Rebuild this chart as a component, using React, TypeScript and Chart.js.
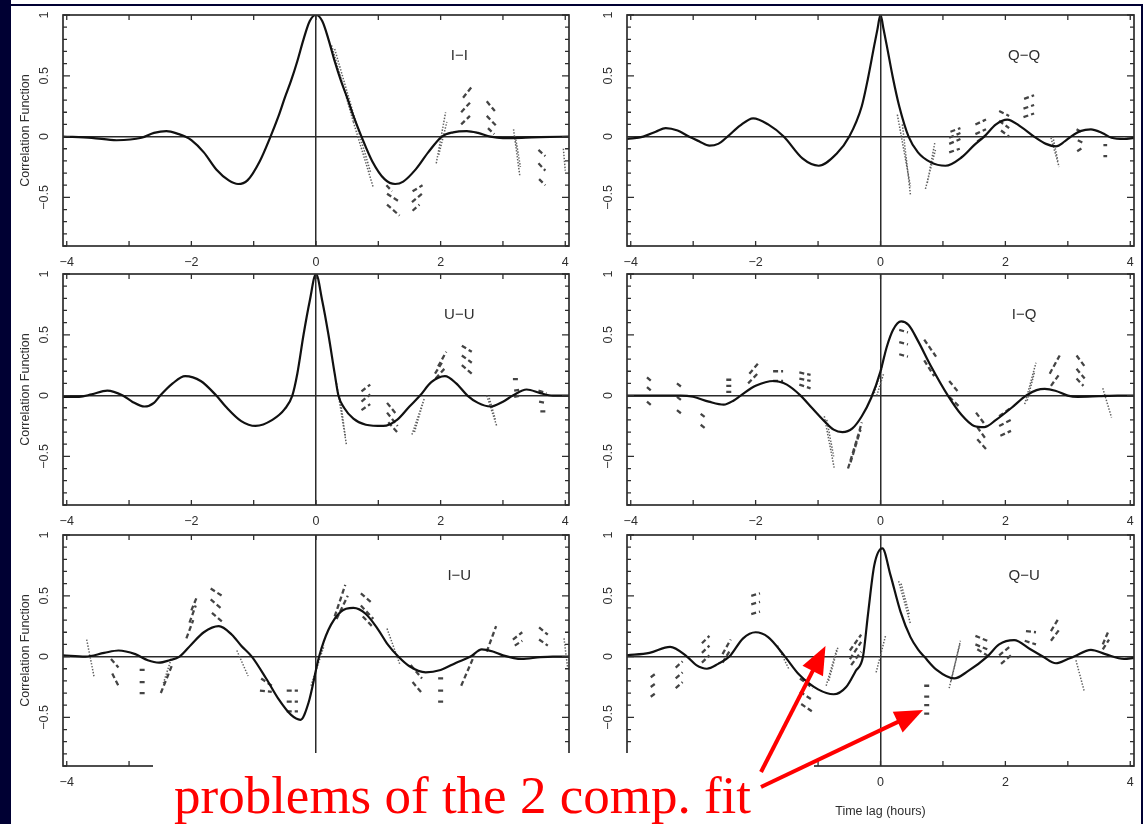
import React, { useEffect, useRef } from "react";
import { Chart, registerables } from "chart.js";
Chart.register(...registerables);

// ---------- axes ----------
const xLabelTicks = [-4, -2, 0, 2, 4];
const xMinorTicks = [-4, -3, -2, -1, 0, 1, 2, 3, 4];
const yLabelTicks = [-0.5, 0, 0.5, 1];
const yMinorTicks = [-0.9, -0.8, -0.7, -0.6, -0.5, -0.4, -0.3, -0.2, -0.1, 0, 0.1, 0.2, 0.3, 0.4, 0.5, 0.6, 0.7, 0.8, 0.9, 1.0];
const yMajorTicks = [-0.5, 0, 0.5, 1];

// ---------- I-I ----------
const iiLag = [-4.06, -3.6, -3.2, -2.8, -2.6, -2.4, -2.2, -2.1, -2.0, -1.8, -1.6, -1.4, -1.25, -1.1, -0.9, -0.73, -0.6, -0.5, -0.4, -0.3, -0.2, -0.1, 0, 0.1, 0.2, 0.3, 0.4, 0.5, 0.6, 0.73, 0.9, 1.1, 1.27, 1.4, 1.6, 1.8, 2.02, 2.2, 2.42, 2.6, 2.8, 3.0, 3.3, 3.6, 4.06];
const iiFit = [0, -0.01, -0.03, -0.01, 0.03, 0.045, 0.02, 0, -0.03, -0.13, -0.27, -0.36, -0.39, -0.36, -0.2, 0, 0.17, 0.32, 0.46, 0.62, 0.8, 0.95, 1.0, 0.95, 0.8, 0.62, 0.46, 0.32, 0.17, 0, -0.2, -0.35, -0.39, -0.37, -0.27, -0.13, 0, 0.035, 0.045, 0.03, 0.0, -0.012, -0.01, -0.005, 0];
const iiDash = [
  [1.13, -0.40, 1.22, -0.45], [1.14, -0.47, 1.32, -0.53], [1.14, -0.56, 1.34, -0.65],
  [1.55, -0.45, 1.71, -0.40], [1.54, -0.54, 1.70, -0.47], [1.55, -0.61, 1.66, -0.56],
  [2.36, 0.32, 2.50, 0.41], [2.33, 0.20, 2.49, 0.29], [2.33, 0.10, 2.47, 0.17],
  [2.74, 0.29, 2.87, 0.21], [2.74, 0.17, 2.89, 0.09], [2.76, 0.07, 2.86, 0.02],
  [3.57, -0.11, 3.68, -0.16], [3.57, -0.22, 3.68, -0.28], [3.58, -0.35, 3.68, -0.40],
];
const iiDot = [
  [0.25, 0.75, 0.6, 0.12], [0.6, 0.12, 0.92, -0.42], [0.3, 0.72, 0.65, 0.1], [0.65, 0.1, 0.88, -0.3],
  [1.93, -0.22, 2.08, 0.2], [1.97, -0.15, 2.1, 0.12],
  [3.17, 0.06, 3.27, -0.32], [3.2, 0.0, 3.28, -0.25], [3.97, -0.1, 4.0, -0.28],
];

// ---------- Q-Q ----------
const qqLag = [-4.06, -3.8, -3.6, -3.44, -3.25, -3.07, -2.9, -2.74, -2.6, -2.45, -2.25, -2.04, -1.8, -1.55, -1.25, -0.99, -0.7, -0.5, -0.3, -0.2, -0.1, -0.05, 0, 0.05, 0.1, 0.2, 0.3, 0.45, 0.6, 0.8, 1.04, 1.3, 1.5, 1.66, 1.85, 2.03, 2.25, 2.46, 2.65, 2.81, 2.95, 3.05, 3.2, 3.37, 3.55, 3.7, 3.9, 4.06];
const qqFit = [-0.02, 0, 0.04, 0.07, 0.05, 0, -0.04, -0.075, -0.06, 0, 0.09, 0.15, 0.1, 0, -0.18, -0.24, -0.14, 0, 0.25, 0.48, 0.75, 0.88, 1.0, 0.88, 0.75, 0.48, 0.25, 0, -0.13, -0.21, -0.24, -0.17, -0.07, 0, 0.1, 0.14, 0.08, 0, -0.06, -0.08, -0.04, 0, 0.045, 0.06, 0.03, -0.01, -0.02, -0.01];
const qqDash = [
  [1.10, -0.13, 1.27, -0.10], [1.10, -0.06, 1.28, -0.02], [1.10, -0.01, 1.28, 0.03], [1.12, 0.04, 1.28, 0.07],
  [1.52, 0.10, 1.69, 0.14], [1.52, 0.02, 1.69, 0.06], [1.55, -0.04, 1.69, 0.01],
  [1.90, 0.21, 2.06, 0.17], [1.90, 0.13, 2.06, 0.07], [1.93, 0.05, 2.06, 0.0],
  [2.30, 0.31, 2.46, 0.34], [2.29, 0.23, 2.46, 0.26], [2.29, 0.16, 2.46, 0.19],
  [3.14, 0.06, 3.24, 0.03], [3.16, -0.03, 3.24, -0.05], [3.15, -0.12, 3.24, -0.09],
  [3.57, -0.07, 3.63, -0.07], [3.57, -0.16, 3.63, -0.16],
];
const qqDot = [
  [0.27, 0.18, 0.48, -0.41], [0.35, 0.1, 0.48, -0.48],
  [0.72, -0.43, 0.88, -0.11], [0.75, -0.38, 0.87, -0.05],
  [2.73, -0.01, 2.86, -0.25], [2.76, 0.0, 2.84, -0.2],
];

// ---------- U-U ----------
const uuLag = [-4.06, -3.8, -3.6, -3.35, -3.1, -2.95, -2.75, -2.6, -2.5, -2.3, -2.1, -1.85, -1.6, -1.45, -1.2, -0.97, -0.7, -0.5, -0.38, -0.3, -0.2, -0.1, 0, 0.1, 0.2, 0.3, 0.36, 0.45, 0.6, 0.8, 1.08, 1.3, 1.5, 1.67, 1.85, 2.07, 2.25, 2.43, 2.6, 2.8, 3.0, 3.16, 3.38, 3.6, 3.8, 4.06];
const uuFit = [-0.01, -0.01, 0.01, 0.04, 0, -0.05, -0.09, -0.06, 0, 0.1, 0.16, 0.12, 0, -0.09, -0.21, -0.25, -0.2, -0.11, 0, 0.18, 0.5, 0.78, 1.0, 0.78, 0.5, 0.18, 0, -0.1, -0.19, -0.24, -0.25, -0.2, -0.09, 0, 0.11, 0.16, 0.1, 0, -0.06, -0.09, -0.05, 0, 0.05, 0.02, 0, 0];
const uuDash = [
  [0.73, 0.035, 0.87, 0.09], [0.73, -0.05, 0.87, 0.01], [0.73, -0.12, 0.87, -0.07],
  [1.14, -0.06, 1.30, -0.16], [1.14, -0.14, 1.31, -0.25], [1.16, -0.22, 1.32, -0.31],
  [1.91, 0.18, 2.02, 0.27], [1.96, 0.24, 2.09, 0.36], [1.92, 0.14, 2.06, 0.22],
  [2.34, 0.41, 2.50, 0.36], [2.34, 0.33, 2.50, 0.27], [2.34, 0.25, 2.50, 0.18],
  [3.16, 0.135, 3.24, 0.135], [3.18, 0.04, 3.30, 0.05], [3.18, -0.01, 3.28, 0.0],
  [3.57, 0.04, 3.70, 0.02], [3.58, -0.05, 3.68, -0.06], [3.6, -0.13, 3.7, -0.13],
];
const uuDot = [
  [0.33, 0.10, 0.49, -0.41], [0.38, 0.0, 0.47, -0.33],
  [1.54, -0.32, 1.72, -0.05], [1.58, -0.3, 1.74, -0.02],
  [2.74, 0.0, 2.90, -0.25], [2.78, -0.02, 2.88, -0.2],
];

// ---------- I-Q ----------
const iqLag = [-4.06, -3.6, -3.2, -3.0, -2.75, -2.51, -2.35, -2.24, -2.0, -1.71, -1.5, -1.28, -1.1, -0.9, -0.75, -0.61, -0.45, -0.3, -0.15, 0, 0.1, 0.2, 0.33, 0.45, 0.6, 0.8, 1.08, 1.3, 1.5, 1.66, 1.85, 2.1, 2.33, 2.5, 2.63, 2.8, 3.0, 3.16, 3.5, 3.8, 4.06];
const iqFit = [0, 0, 0, -0.01, -0.05, -0.075, -0.04, 0, 0.08, 0.12, 0.09, 0, -0.1, -0.21, -0.28, -0.3, -0.27, -0.17, -0.02, 0.2, 0.4, 0.54, 0.61, 0.58, 0.45, 0.25, 0, -0.16, -0.25, -0.26, -0.2, -0.1, 0, 0.045, 0.055, 0.04, 0, -0.01, -0.005, 0, 0];
const iqDash = [
  [-3.74, 0.15, -3.65, 0.11], [-3.74, 0.07, -3.65, 0.03], [-3.74, -0.05, -3.65, -0.09],
  [-3.26, 0.10, -3.16, 0.06], [-3.26, -0.01, -3.16, -0.05], [-3.26, -0.12, -3.16, -0.16],
  [-2.88, -0.15, -2.78, -0.19], [-2.88, -0.24, -2.78, -0.28],
  [-2.47, 0.13, -2.35, 0.13], [-2.47, 0.08, -2.35, 0.08], [-2.47, 0.03, -2.35, 0.03],
  [-2.1, 0.18, -1.95, 0.27], [-2.12, 0.10, -1.97, 0.18],
  [-1.72, 0.2, -1.56, 0.2], [-1.72, 0.12, -1.56, 0.12],
  [-1.3, 0.19, -1.12, 0.17], [-1.3, 0.14, -1.12, 0.12], [-1.3, 0.09, -1.12, 0.06],
  [-0.52, -0.6, -0.36, -0.33], [-0.48, -0.55, -0.32, -0.28], [-0.44, -0.48, -0.3, -0.22],
  [0.30, 0.54, 0.44, 0.52], [0.30, 0.44, 0.44, 0.42], [0.30, 0.34, 0.44, 0.32],
  [0.70, 0.46, 0.89, 0.32], [0.70, 0.29, 0.86, 0.16],
  [1.10, 0.12, 1.26, 0.02], [1.10, -0.01, 1.26, -0.09],
  [1.53, -0.14, 1.69, -0.25], [1.55, -0.26, 1.69, -0.36], [1.55, -0.36, 1.69, -0.44],
  [1.90, -0.17, 2.09, -0.10], [1.90, -0.25, 2.09, -0.20], [1.92, -0.33, 2.09, -0.29],
  [2.71, 0.18, 2.87, 0.33], [2.73, 0.08, 2.87, 0.18],
  [3.14, 0.33, 3.27, 0.24], [3.14, 0.22, 3.27, 0.14], [3.14, 0.14, 3.25, 0.08],
];
const iqDot = [
  [-0.90, -0.17, -0.74, -0.60], [-0.86, -0.2, -0.75, -0.5],
  [-0.1, 0.02, 0.03, 0.24], [-0.06, 0.0, 0.05, 0.18],
  [2.31, -0.07, 2.49, 0.27], [2.35, -0.04, 2.47, 0.2],
  [3.56, 0.06, 3.70, -0.18],
];

// ---------- I-U ----------
const iuLag = [-4.06, -3.7, -3.4, -3.17, -2.9, -2.7, -2.52, -2.35, -2.19, -2.0, -1.8, -1.56, -1.35, -1.2, -1.03, -0.8, -0.6, -0.4, -0.25, -0.12, 0.05, 0.2, 0.4, 0.6, 0.8, 1.0, 1.15, 1.32, 1.5, 1.76, 2.0, 2.25, 2.48, 2.66, 2.85, 3.0, 3.3, 3.6, 3.8, 4.06];
const iuFit = [0.01, 0, 0.03, 0.05, 0.02, -0.03, -0.05, -0.03, 0, 0.1, 0.2, 0.25, 0.18, 0.09, 0, -0.18, -0.35, -0.48, -0.52, -0.38, 0, 0.22, 0.37, 0.4, 0.35, 0.22, 0.1, 0, -0.08, -0.13, -0.11, -0.05, 0, 0.06, 0.04, 0.01, -0.02, -0.005, 0, 0];
const iuDash = [
  [-3.29, -0.02, -3.17, -0.09], [-3.27, -0.14, -3.17, -0.24],
  [-2.83, -0.11, -2.73, -0.11], [-2.83, -0.21, -2.73, -0.21], [-2.83, -0.30, -2.73, -0.30],
  [-2.49, -0.30, -2.31, -0.07],
  [-2.08, 0.15, -1.97, 0.30], [-2.03, 0.28, -1.93, 0.42], [-2.00, 0.38, -1.92, 0.48],
  [-1.69, 0.56, -1.51, 0.50], [-1.69, 0.47, -1.51, 0.39], [-1.67, 0.36, -1.51, 0.29],
  [-0.88, -0.18, -0.71, -0.24], [-0.9, -0.28, -0.71, -0.29],
  [-0.47, -0.28, -0.29, -0.28], [-0.47, -0.37, -0.29, -0.37], [-0.47, -0.45, -0.29, -0.45],
  [0.30, 0.33, 0.47, 0.59], [0.33, 0.31, 0.51, 0.50],
  [0.72, 0.52, 0.90, 0.44], [0.72, 0.42, 0.92, 0.31], [0.75, 0.33, 0.90, 0.25],
  [1.52, -0.07, 1.70, -0.18], [1.55, -0.21, 1.70, -0.30],
  [1.96, -0.18, 2.08, -0.18], [1.96, -0.28, 2.08, -0.28], [1.96, -0.37, 2.08, -0.37],
  [2.33, -0.24, 2.54, 0.01], [2.74, 0.04, 2.89, 0.25],
  [3.16, 0.14, 3.31, 0.20], [3.19, 0.09, 3.31, 0.13],
  [3.58, 0.24, 3.72, 0.18], [3.58, 0.14, 3.72, 0.09],
];
const iuDot = [
  [-3.68, 0.14, -3.56, -0.17], [-2.45, -0.22, -2.33, -0.03],
  [-1.27, 0.05, -1.09, -0.16], [-0.08, -0.24, 0.13, 0.09],
  [1.14, 0.23, 1.35, -0.07], [3.98, 0.15, 4.04, -0.1],
];

// ---------- Q-U ----------
const quLag = [-4.06, -3.7, -3.37, -3.1, -2.95, -2.78, -2.6, -2.42, -2.2, -2.0, -1.8, -1.53, -1.3, -1.0, -0.75, -0.55, -0.4, -0.28, -0.2, -0.1, 0.03, 0.16, 0.32, 0.48, 0.6, 0.7, 0.9, 1.18, 1.4, 1.71, 1.9, 2.14, 2.4, 2.6, 2.81, 3.0, 3.1, 3.37, 3.6, 3.9, 4.06];
const quFit = [0.01, 0.03, 0.08, 0, -0.07, -0.1, -0.06, 0, 0.15, 0.2, 0.16, 0, -0.15, -0.27, -0.31, -0.25, -0.12, 0, 0.35, 0.75, 0.89, 0.67, 0.37, 0.16, 0.06, 0, -0.11, -0.18, -0.12, 0, 0.1, 0.135, 0.06, 0, -0.055, -0.02, 0, 0.055, 0.02, -0.02, -0.01];
const quDash = [
  [-3.68, -0.17, -3.60, -0.14], [-3.68, -0.25, -3.60, -0.22], [-3.68, -0.33, -3.60, -0.30],
  [-3.28, -0.09, -3.17, -0.04], [-3.28, -0.18, -3.17, -0.13], [-3.28, -0.26, -3.17, -0.21],
  [-2.86, 0.11, -2.74, 0.17], [-2.86, 0.03, -2.74, 0.09], [-2.86, -0.05, -2.74, 0.01],
  [-2.53, 0.02, -2.40, 0.14], [-2.53, -0.05, -2.40, 0.06],
  [-2.07, 0.50, -1.93, 0.52], [-2.07, 0.43, -1.93, 0.45], [-2.07, 0.35, -1.93, 0.37],
  [-1.29, -0.18, -1.08, -0.26], [-1.29, -0.29, -1.08, -0.36], [-1.27, -0.39, -1.10, -0.45],
  [-0.49, 0.05, -0.31, 0.18], [-0.49, -0.02, -0.31, 0.12], [-0.47, -0.07, -0.31, 0.04],
  [0.70, -0.24, 0.80, -0.24], [0.70, -0.33, 0.80, -0.33], [0.70, -0.40, 0.80, -0.40], [0.70, -0.47, 0.80, -0.47],
  [1.52, 0.17, 1.71, 0.13], [1.52, 0.10, 1.71, 0.06], [1.55, 0.06, 1.71, 0.01],
  [1.90, 0.01, 2.09, 0.09], [1.93, -0.06, 2.09, 0.01],
  [2.33, 0.21, 2.49, 0.20], [2.31, 0.13, 2.49, 0.10],
  [2.73, 0.21, 2.86, 0.32], [2.73, 0.13, 2.86, 0.22],
  [3.56, 0.10, 3.66, 0.22], [3.56, 0.06, 3.66, 0.14],
];
const quDot = [
  [-1.65, 0.09, -1.47, -0.10],
  [-0.87, -0.24, -0.70, 0.06], [-0.83, -0.2, -0.68, 0.08],
  [-0.07, -0.13, 0.08, 0.17],
  [0.29, 0.62, 0.48, 0.27], [0.33, 0.6, 0.46, 0.35],
  [1.10, -0.26, 1.28, 0.13], [1.13, -0.2, 1.27, 0.1],
  [3.13, -0.03, 3.26, -0.28],
];

// ---------- panel layout ----------
const LABEL_X = 2.3;
const LABEL_Y = 0.66;

type PanelCfg = {
  label: string; lag: number[]; fit: number[]; dash: number[][]; dot: number[][];
  left: number; top: number; width: number; height: number;
  axisW: number; axisH: number; padRight: number; yTitle: boolean; xTitle: boolean;
};

const LEFT = { left: 0, width: 580, axisW: 63, padRight: 11 };
const RIGHT = { left: 580, width: 568, axisW: 47, padRight: 14 };

const panels: PanelCfg[] = [
  { label: "I\u2212I", lag: iiLag, fit: iiFit, dash: iiDash, dot: iiDot, ...LEFT, top: 0, height: 275, axisH: 29, yTitle: true, xTitle: false },
  { label: "Q\u2212Q", lag: qqLag, fit: qqFit, dash: qqDash, dot: qqDot, ...RIGHT, top: 0, height: 275, axisH: 29, yTitle: false, xTitle: false },
  { label: "U\u2212U", lag: uuLag, fit: uuFit, dash: uuDash, dot: uuDot, ...LEFT, top: 259, height: 275, axisH: 29, yTitle: true, xTitle: false },
  { label: "I\u2212Q", lag: iqLag, fit: iqFit, dash: iqDash, dot: iqDot, ...RIGHT, top: 259, height: 275, axisH: 29, yTitle: false, xTitle: false },
  { label: "I\u2212U", lag: iuLag, fit: iuFit, dash: iuDash, dot: iuDot, ...LEFT, top: 520, height: 304, axisH: 58, yTitle: true, xTitle: false },
  { label: "Q\u2212U", lag: quLag, fit: quFit, dash: quDash, dot: quDot, ...RIGHT, top: 520, height: 304, axisH: 58, yTitle: false, xTitle: true },
];

const fmt = (v: number) => (v < 0 ? "\u2212" + String(Math.abs(v)) : String(v));
const FONT = '"Liberation Sans", Arial, sans-serif';
const INK = "#2e2e2e";

function toXY(xs: number[], ys: number[]) {
  return xs.map((x, i) => ({ x, y: ys[i] }));
}
function segPoints(segs: number[][]) {
  const out: { x: number; y: number | null }[] = [];
  segs.forEach((s) => {
    out.push({ x: s[0], y: s[1] }, { x: s[2], y: s[3] }, { x: s[2], y: null });
  });
  return out;
}

function Panel({ cfg }: { cfg: PanelCfg }) {
  const ref = useRef<HTMLCanvasElement>(null);
  useEffect(() => {
    const framePlugin = {
      id: "frameTicks",
      afterDatasetsDraw(chart: any) {
        const { ctx, chartArea: a } = chart;
        const xs = chart.scales.x;
        const ys = chart.scales.y;
        ctx.save();
        ctx.strokeStyle = INK;
        ctx.lineWidth = 1.7;
        ctx.strokeRect(a.left, a.top, a.right - a.left, a.bottom - a.top);
        ctx.lineWidth = 1.3;
        ctx.beginPath();
        xMinorTicks.forEach((v) => {
          const px = xs.getPixelForValue(v);
          ctx.moveTo(px, a.top);
          ctx.lineTo(px, a.top + 5);
          ctx.moveTo(px, a.bottom);
          ctx.lineTo(px, a.bottom - 5);
        });
        yMinorTicks.forEach((v) => {
          const py = ys.getPixelForValue(v);
          const len = yMajorTicks.includes(v) ? 7 : 4;
          ctx.moveTo(a.left, py);
          ctx.lineTo(a.left + len, py);
          ctx.moveTo(a.right, py);
          ctx.lineTo(a.right - len, py);
        });
        ctx.stroke();
        ctx.fillStyle = INK;
        ctx.font = `15px ${FONT}`;
        ctx.textAlign = "center";
        ctx.textBaseline = "middle";
        ctx.fillText(cfg.label, xs.getPixelForValue(LABEL_X), ys.getPixelForValue(LABEL_Y));
        ctx.restore();
      },
    };
    const zeroGrid = (c: any) => (c.tick && c.tick.value === 0 ? "#2b2b2b" : "rgba(0,0,0,0)");
    const chart = new Chart(ref.current as HTMLCanvasElement, {
      type: "line",
      data: {
        datasets: [
          {
            data: toXY(cfg.lag, cfg.fit),
            borderColor: "#111111",
            borderWidth: 2.2,
            pointRadius: 0,
            cubicInterpolationMode: "monotone",
            fill: false,
          },
          {
            data: segPoints(cfg.dash),
            borderColor: "#444444",
            borderWidth: 2.3,
            borderDash: [5, 3],
            pointRadius: 0,
            spanGaps: false,
            tension: 0,
            fill: false,
          },
          {
            data: segPoints(cfg.dot),
            borderColor: "#5e5e5e",
            borderWidth: 1.5,
            borderDash: [1.4, 1.6],
            pointRadius: 0,
            spanGaps: false,
            tension: 0,
            fill: false,
          },
        ] as any,
      },
      options: {
        animation: false,
        responsive: false,
        events: [],
        layout: { padding: { top: 15, right: cfg.padRight, left: 0, bottom: 0 } },
        plugins: { legend: { display: false }, tooltip: { enabled: false } },
        scales: {
          x: {
            type: "linear",
            min: -4.06,
            max: 4.06,
            afterBuildTicks: (s: any) => {
              s.ticks = xLabelTicks.map((v) => ({ value: v }));
            },
            afterFit: (s: any) => {
              s.height = cfg.axisH;
            },
            grid: { color: zeroGrid, lineWidth: 1.5, drawTicks: false },
            border: { display: false },
            ticks: {
              callback: (v: any) => fmt(Number(v)),
              color: INK,
              font: { family: FONT, size: 12.5 },
              padding: 9,
              maxRotation: 0,
              autoSkip: false,
            },
            title: {
              display: cfg.xTitle,
              text: "Time lag (hours)",
              color: INK,
              font: { family: FONT, size: 12.5 },
              padding: { top: 0, bottom: 5 },
            },
          },
          y: {
            type: "linear",
            min: -0.9,
            max: 1.0,
            afterBuildTicks: (s: any) => {
              s.ticks = yLabelTicks.map((v) => ({ value: v }));
            },
            afterFit: (s: any) => {
              s.width = cfg.axisW;
            },
            grid: { color: zeroGrid, lineWidth: 1.5, drawTicks: false },
            border: { display: false },
            ticks: {
              callback: (v: any) => fmt(Number(v)),
              color: INK,
              font: { family: FONT, size: 12.5 },
              padding: 6,
              minRotation: 90,
              maxRotation: 90,
              crossAlign: "center",
              autoSkip: false,
            },
            title: {
              display: cfg.yTitle,
              text: "Correlation Function",
              color: INK,
              font: { family: FONT, size: 12.5 },
              padding: { top: 18, bottom: 0 },
            },
          },
        },
      } as any,
      plugins: [framePlugin],
    });
    return () => chart.destroy();
  }, [cfg]);
  return (
    <canvas
      ref={ref}
      width={cfg.width}
      height={cfg.height}
      style={{ position: "absolute", left: cfg.left, top: cfg.top, width: cfg.width, height: cfg.height }}
    />
  );
}

function arrowPolys(tail: number[], tip: number[], headLen: number, halfW: number) {
  const dx = tip[0] - tail[0];
  const dy = tip[1] - tail[1];
  const L = Math.hypot(dx, dy);
  const ux = dx / L;
  const uy = dy / L;
  const bx = tip[0] - ux * headLen;
  const by = tip[1] - uy * headLen;
  const px = -uy;
  const py = ux;
  return {
    line: [tail[0], tail[1], bx + ux * 2, by + uy * 2],
    head: `${tip[0]},${tip[1]} ${bx + px * halfW},${by + py * halfW} ${bx - px * halfW},${by - py * halfW}`,
  };
}

const arrows = [
  arrowPolys([761, 772], [825.5, 646], 28, 11.5),
  arrowPolys([761, 787], [923, 710], 28, 11.5),
];

export default function App() {
  return (
    <div style={{ position: "fixed", left: 0, top: 0, width: 1148, height: 824, background: "#ffffff", overflow: "hidden" }}>
      <div style={{ position: "absolute", left: 0, top: 0, width: 11, height: 824, background: "#000033" }} />
      <div style={{ position: "absolute", left: 11, top: 4, width: 1132, height: 1.5, background: "#000033" }} />
      <div style={{ position: "absolute", left: 1141, top: 4, width: 2, height: 820, background: "#000033" }} />
      {panels.map((p, i) => (
        <Panel key={i} cfg={p} />
      ))}
      <div style={{ position: "absolute", left: 153, top: 753, width: 661, height: 71, background: "#ffffff" }} />
      <div
        style={{
          position: "absolute",
          left: 174,
          top: 769,
          font: '53px "Liberation Serif", "Times New Roman", serif',
          lineHeight: "53px",
          color: "#ff0000",
          whiteSpace: "nowrap",
        }}
      >
        problems of the 2 comp. fit
      </div>
      <svg width={1148} height={824} style={{ position: "absolute", left: 0, top: 0, pointerEvents: "none" }}>
        {arrows.map((a, i) => (
          <g key={i}>
            <line x1={a.line[0]} y1={a.line[1]} x2={a.line[2]} y2={a.line[3]} stroke="#ff0000" strokeWidth={4} />
            <polygon points={a.head} fill="#ff0000" />
          </g>
        ))}
      </svg>
    </div>
  );
}
